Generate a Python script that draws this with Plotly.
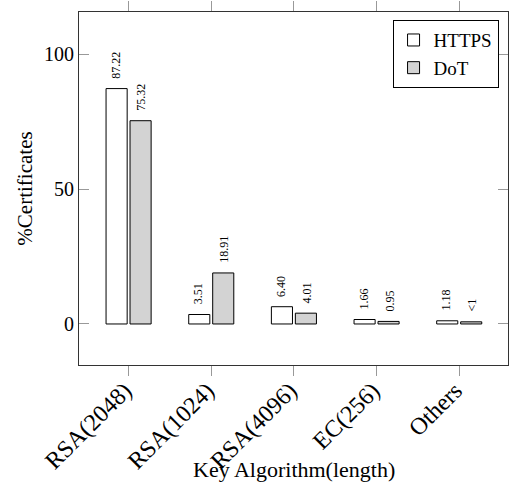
import plotly.graph_objects as go

categories = ["RSA(2048)", "RSA(1024)", "RSA(4096)", "EC(256)", "Others"]
https_vals = [87.22, 3.51, 6.40, 1.66, 1.18]
dot_vals = [75.32, 18.91, 4.01, 0.95, 0.8]
https_labels = ["87.22", "3.51", "6.40", "1.66", "1.18"]
dot_labels = ["75.32", "18.91", "4.01", "0.95", "<1"]
y_ticks = [0, 50, 100]

FONT = "Liberation Serif"

fig = go.Figure()
fig.add_trace(go.Bar(x=categories, y=https_vals, name="HTTPS",
                     marker=dict(color="white", line=dict(color="black", width=1))))
fig.add_trace(go.Bar(x=categories, y=dot_vals, name="DoT",
                     marker=dict(color="#d3d3d3", line=dict(color="black", width=1))))

annotations = []
for vals, labels, shift in ((https_vals, https_labels, -13), (dot_vals, dot_labels, 13)):
    for c, v, t in zip(categories, vals, labels):
        annotations.append(dict(x=c, y=v, text=t, showarrow=False, textangle=-90,
                                xshift=shift, yshift=8, yanchor="bottom",
                                font=dict(family=FONT, size=12, color="black")))
annotations.append(dict(x=0.5, y=-0.297, xref="paper", yref="paper", showarrow=False,
                        text="Key Algorithm(length)", xanchor="center", yanchor="middle",
                        font=dict(family=FONT, size=22, color="black")))

fig.update_layout(
    width=509, height=491,
    margin=dict(l=79, r=1, t=12, b=126),
    paper_bgcolor="white", plot_bgcolor="white",
    barmode="group", bargap=0.42, bargroupgap=0.12,
    font=dict(family=FONT, size=17, color="black"),
    annotations=annotations,
    showlegend=True,
    legend=dict(x=0.978, y=0.977, xanchor="right", yanchor="top",
                bordercolor="black", borderwidth=1, bgcolor="white",
                font=dict(family=FONT, size=19)),
    xaxis=dict(range=[-0.6, 4.59], showline=True, linecolor="#333", mirror="allticks",
               ticks="outside", ticklen=10, tickcolor="#999", tickangle=-45,
               ticklabelstandoff=-9, ticklabelshift=-4,
               showgrid=False, tickfont=dict(family=FONT, size=24)),
    yaxis=dict(range=[-15.2, 115.6], showline=True, linecolor="#333", mirror="allticks",
               ticks="inside", ticklen=10, tickcolor="#999", tickvals=y_ticks,
               showgrid=False, zeroline=False, tickfont=dict(family=FONT, size=20),
               title=dict(text="%Certificates", font=dict(family=FONT, size=21), standoff=5)),
)

fig.write_html("out.html")
